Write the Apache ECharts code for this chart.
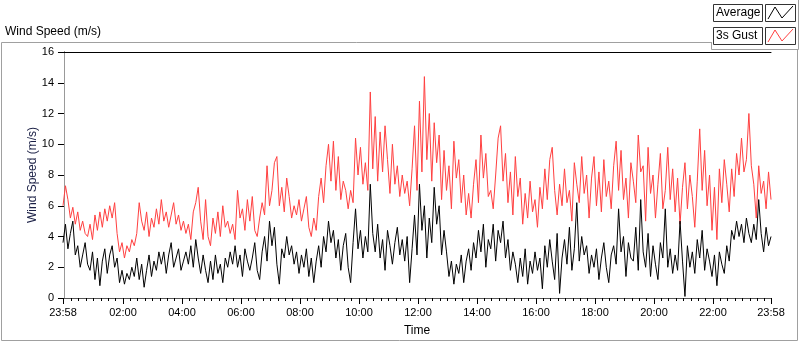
<!DOCTYPE html>
<html>
<head>
<meta charset="utf-8">
<script src="https://cdn.jsdelivr.net/npm/echarts@6/dist/echarts.min.js"></script>
<style>
html, body { margin: 0; padding: 0; background: #fff; }
#main { width: 800px; height: 342px; }
</style>
</head>
<body>
<div id="main"></div>
<script>
// 平均风速 (黑) 与 3 秒阵风 (红), 每 5 分钟一个点, 从 23:58 到次日 23:58
var avgSpeed = [
	3.6, 4.8, 3.2, 4.2, 5.0, 2.8, 3.4, 2.0, 2.8, 3.6,
	2.2, 1.8, 3.0, 1.2, 2.6, 0.8, 2.4, 3.2, 1.6, 2.8,
	3.4, 2.0, 2.6, 1.0, 1.8, 0.9, 1.6, 1.2, 2.0, 1.4,
	2.6, 1.2, 2.2, 0.7, 1.8, 2.8, 1.4, 2.4, 1.8, 3.0,
	2.2, 3.0, 1.6, 2.8, 3.6, 2.0, 2.6, 3.2, 1.8, 2.4,
	3.0, 2.2, 3.4, 2.0, 3.8, 2.6, 1.6, 2.8,
	1.8, 1.0, 2.4, 1.2, 2.8, 1.6, 2.2, 1.0, 2.6, 2.0,
	3.0, 2.2, 3.4, 2.0, 2.8, 1.4, 3.2, 2.4, 1.8, 2.6,
	3.6, 1.8, 1.2, 3.0, 4.0, 2.4, 5.0, 3.4, 4.6, 2.2,
	0.9, 3.2, 2.6, 4.0, 2.8, 3.4, 2.2, 3.0, 1.6, 2.8,
	2.0, 3.2, 1.4, 2.6, 1.0, 2.4, 3.4, 2.0, 4.0, 3.0,
	5.0, 3.6, 4.4, 2.6, 3.8, 1.8, 3.4, 4.2,
	2.0, 1.0, 3.6, 5.8, 3.2, 4.4, 2.6, 4.0, 3.0, 7.4,
	4.2, 3.0, 4.8, 2.6, 3.8, 1.8, 4.4, 3.4, 2.2, 3.6,
	4.6, 2.8, 3.8, 2.4, 4.0, 1.0, 3.2, 5.4, 2.8, 7.4,
	4.4, 6.0, 2.6, 5.2, 3.6, 7.2, 4.8, 6.0, 2.8, 4.4,
	3.0, 1.4, 2.4, 0.9, 2.2, 1.6, 2.8, 1.0, 2.4, 3.2,
	1.8, 3.6, 2.6, 4.4, 3.0, 4.8, 2.0, 3.8,
	3.2, 4.8, 2.4, 4.4, 3.6, 5.0, 2.6, 3.8, 1.8, 3.0,
	2.2, 1.0, 2.6, 1.4, 3.2, 0.9, 2.4, 1.6, 3.0, 1.8,
	2.6, 0.6, 3.4, 2.0, 3.8, 2.4, 1.2, 4.2, 0.3, 2.6,
	3.8, 2.2, 4.6, 1.8, 3.2, 6.2, 2.4, 4.0, 2.8, 3.4,
	1.6, 2.8, 2.0, 3.2, 1.2, 2.6, 3.6, 2.0, 1.0, 2.8,
	3.4, 2.2, 5.8, 3.0, 4.0, 1.4, 3.6, 2.6,
	2.4, 4.6, 1.8, 6.4, 3.0, 2.0, 4.2, 1.4, 3.4, 2.2,
	1.2, 3.6, 2.6, 5.8, 2.0, 3.2, 1.6, 2.8, 1.8, 5.0,
	2.4, 0.1, 3.4, 2.0, 3.0, 1.6, 3.8, 2.6, 4.4, 1.8,
	3.2, 2.4, 1.4, 2.8, 0.8, 3.0, 2.2, 1.6, 3.4, 2.4,
	4.4, 3.8, 5.0, 4.0, 4.8, 3.6, 5.2, 4.2, 3.6, 4.8,
	3.8, 6.4, 4.2, 3.0, 4.6, 3.4, 4.0
];
var gustSpeed = [
	6.0, 7.3, 6.4, 5.2, 5.9, 4.8, 5.6, 4.4, 5.0, 4.2,
	4.0, 4.8, 3.8, 5.4, 4.4, 5.6, 4.6, 5.8, 5.0, 6.0,
	5.2, 6.2, 4.2, 3.0, 3.6, 2.6, 3.4, 3.0, 3.8, 3.4,
	4.2, 6.2, 5.0, 4.4, 5.6, 4.0, 5.2, 4.6, 5.8, 4.8,
	6.4, 5.0, 5.6, 4.6, 5.4, 6.2, 4.8, 5.4, 4.4, 5.0,
	4.2, 4.8, 3.8, 5.6, 6.2, 7.2, 5.0, 3.8,
	6.4, 4.0, 3.4, 5.2, 4.2, 5.6, 4.0, 6.0, 4.6, 5.0,
	4.2, 4.8, 3.8, 7.0, 5.2, 5.8, 4.4, 6.4, 5.0, 6.6,
	4.4, 4.0, 5.2, 6.2, 5.4, 8.6, 6.0, 7.0, 8.8, 9.2,
	6.0, 7.2, 5.6, 7.8, 6.6, 5.2, 6.0, 5.4, 6.4, 5.0,
	5.8, 6.6, 4.6, 4.0, 5.2, 4.4, 6.6, 7.8, 6.2, 8.6,
	10.0, 7.6, 10.2, 7.0, 9.2, 6.4, 7.6, 7.0,
	5.8, 7.0, 6.2, 10.4, 8.0, 9.8, 7.4, 8.8, 7.0, 13.4,
	8.4, 11.8, 7.6, 10.8, 8.2, 11.2, 9.0, 6.8, 10.0, 7.4,
	8.6, 6.6, 8.0, 6.8, 7.6, 6.0, 8.4, 11.2, 7.0, 12.8,
	8.2, 14.4, 9.0, 12.0, 7.6, 11.4, 8.8, 10.6, 6.4, 9.6,
	7.0, 8.6, 5.8, 10.2, 7.8, 9.0, 6.2, 8.0, 5.4, 6.8,
	5.2, 7.4, 9.0, 6.2, 10.6, 7.8, 9.4, 6.6,
	7.0, 5.8, 8.0, 10.4, 11.2, 7.6, 9.4, 6.2, 8.2, 5.4,
	9.2, 6.6, 7.8, 4.8, 6.8, 5.2, 7.6, 5.6, 6.4, 4.6,
	7.2, 5.8, 8.4, 6.4, 9.0, 9.8, 7.0, 5.4, 7.4, 6.0,
	8.4, 6.2, 7.0, 5.0, 8.8, 7.4, 6.2, 9.2, 6.8, 8.0,
	5.2, 7.8, 9.2, 6.0, 8.2, 5.6, 9.0, 6.6, 7.6, 5.8,
	8.6, 10.2, 7.0, 9.6, 6.4, 7.8, 5.2, 8.8,
	7.6, 6.2, 10.6, 8.2, 8.6, 5.0, 9.8, 6.8, 8.0, 5.2,
	7.4, 9.4, 5.8, 7.0, 9.8, 6.4, 8.4, 5.6, 7.8, 4.8,
	7.2, 8.8, 5.8, 8.0, 6.6, 4.6, 7.6, 11.0, 7.0, 9.6,
	6.0, 8.0, 4.4, 7.2, 3.8, 8.4, 6.2, 9.0, 7.4, 5.6,
	8.4, 6.6, 9.4, 8.0, 10.4, 8.2, 9.0, 12.0, 8.6, 7.4,
	5.2, 8.6, 6.8, 7.6, 5.8, 8.2, 6.4
];
// 时间轴: 分钟, -2 = 23:58 (前一天)
var startMin = -2;
var endMin = 1438;
var majorTicks = [-2, 120, 240, 360, 480, 600, 720, 840, 960, 1080, 1200, 1320, 1438];

var minorTicks = [];
for (var m = 15; m < endMin; m += 15) {
	if (m % 120 !== 0) minorTicks.push(m);
}

function toPairs(values) {
	var step = (endMin - startMin) / (values.length - 1);
	return values.map(function (v, i) { return [startMin + i * step, v]; });
}

function hhmm(v) {
	var t = (Math.round(v) + 1440) % 1440;
	var h = Math.floor(t / 60), mm = t % 60;
	return (h < 10 ? '0' : '') + h + ':' + (mm < 10 ? '0' : '') + mm;
}

var font = 'Liberation Sans';
var myChart = echarts.init(document.getElementById('main'));

myChart.setOption({
	backgroundColor: '#fff',
	animation: false,
	textStyle: { fontFamily: font },
	grid: { left: 63, right: 29, top: 52, bottom: 39 },
	xAxis: [
		{
			type: 'value',
			min: startMin,
			max: endMin,
			position: 'bottom',
			name: 'Time',
			nameLocation: 'middle',
			nameGap: 27,
			nameMoveOverlap: false,
			nameTextStyle: { color: '#000', fontSize: 12, fontFamily: font },
			axisLine: { show: true, lineStyle: { color: '#555', width: 1 } },
			axisTick: { show: true, customValues: majorTicks, length: 6, lineStyle: { color: '#000' } },
			axisLabel: {
				customValues: majorTicks,
				margin: 9,
				color: '#000',
				fontSize: 11,
				fontFamily: font,
				formatter: function (v) { return hhmm(v); }
			},
			splitLine: { show: false }
		},
		{
			// 次刻度
			type: 'value',
			min: startMin,
			max: endMin,
			position: 'bottom',
			axisLine: { show: false },
			axisTick: { show: true, customValues: minorTicks, length: 3, lineStyle: { color: '#000' } },
			axisLabel: { show: false },
			splitLine: { show: false }
		},
		{
			type: 'value',
			min: startMin,
			max: endMin,
			position: 'top',
			axisLine: { show: true, lineStyle: { color: '#000', width: 1 } },
			axisTick: { show: false },
			axisLabel: { show: false },
			splitLine: { show: false }
		}
	],
	yAxis: [
		{
			type: 'value',
			min: 0,
			max: 16,
			interval: 2,
			name: 'Wind Speed (m/s)',
			nameLocation: 'middle',
			nameGap: 24,
			nameMoveOverlap: false,
			nameTextStyle: { color: '#1a1f45', fontSize: 12, fontFamily: font },
			axisLine: { show: true, lineStyle: { color: '#000', width: 1 } },
			axisTick: { show: true, length: 6, lineStyle: { color: '#000' } },
			axisLabel: { margin: 9, color: '#000', fontSize: 11, fontFamily: font },
			splitLine: { show: false }
		},
		{
			type: 'value',
			min: 0,
			max: 16,
			position: 'right',
			axisLine: { show: true, lineStyle: { color: '#999', width: 1 } },
			axisTick: { show: false },
			axisLabel: { show: false },
			splitLine: { show: false }
		}
	],
	series: [
		{
			name: '3s Gust',
			type: 'line',
			symbol: 'none',
			data: toPairs(gustSpeed),
			lineStyle: { color: '#ff4040', width: 1 },
			z: 2
		},
		{
			name: 'Average',
			type: 'line',
			symbol: 'none',
			data: toPairs(avgSpeed),
			lineStyle: { color: '#000', width: 1 },
			z: 3
		}
	],
	graphic: [
		// 外框
		{ type: 'polyline', shape: { points: [[712, 42.5], [1.5, 42.5], [1.5, 340.5], [797.5, 340.5], [797.5, 49.5]] },
			style: { stroke: '#a0a0a0', fill: null, lineWidth: 1 }, silent: true },
		// 图例面板
		{ type: 'polyline', shape: { points: [[711.5, 42], [711.5, 49.5], [798.5, 49.5], [798.5, 0]] },
			style: { stroke: '#a0a0a0', fill: null, lineWidth: 1 }, silent: true },
		{ type: 'text', left: 5, top: 26, style: { text: 'Wind Speed (m/s)', fill: '#000', font: '12px "Liberation Sans"' } },
		// 图例: Average
		{ type: 'rect', shape: { x: 713.5, y: 4.5, width: 49, height: 17 }, style: { fill: '#fff', stroke: '#333', lineWidth: 1 } },
		{ type: 'text', left: 716, top: 7, style: { text: 'Average', fill: '#000', font: '12px "Liberation Sans"' } },
		{ type: 'rect', shape: { x: 765.5, y: 4.5, width: 30, height: 17 }, style: { fill: '#fff', stroke: '#333', lineWidth: 1 } },
		{ type: 'polyline', shape: { points: [[768, 19], [775, 7], [782, 18], [793, 6]] }, style: { stroke: '#000', fill: null, lineWidth: 1 } },
		// 图例: 3s Gust
		{ type: 'rect', shape: { x: 713.5, y: 27.5, width: 49, height: 17 }, style: { fill: '#fff', stroke: '#333', lineWidth: 1 } },
		{ type: 'text', left: 716, top: 30, style: { text: '3s Gust', fill: '#000', font: '12px "Liberation Sans"' } },
		{ type: 'rect', shape: { x: 765.5, y: 27.5, width: 30, height: 17 }, style: { fill: '#fff', stroke: '#333', lineWidth: 1 } },
		{ type: 'polyline', shape: { points: [[768, 42], [775, 30], [782, 41], [793, 29]] }, style: { stroke: '#ff4040', fill: null, lineWidth: 1 } }
	]
});
</script>
</body>
</html>
